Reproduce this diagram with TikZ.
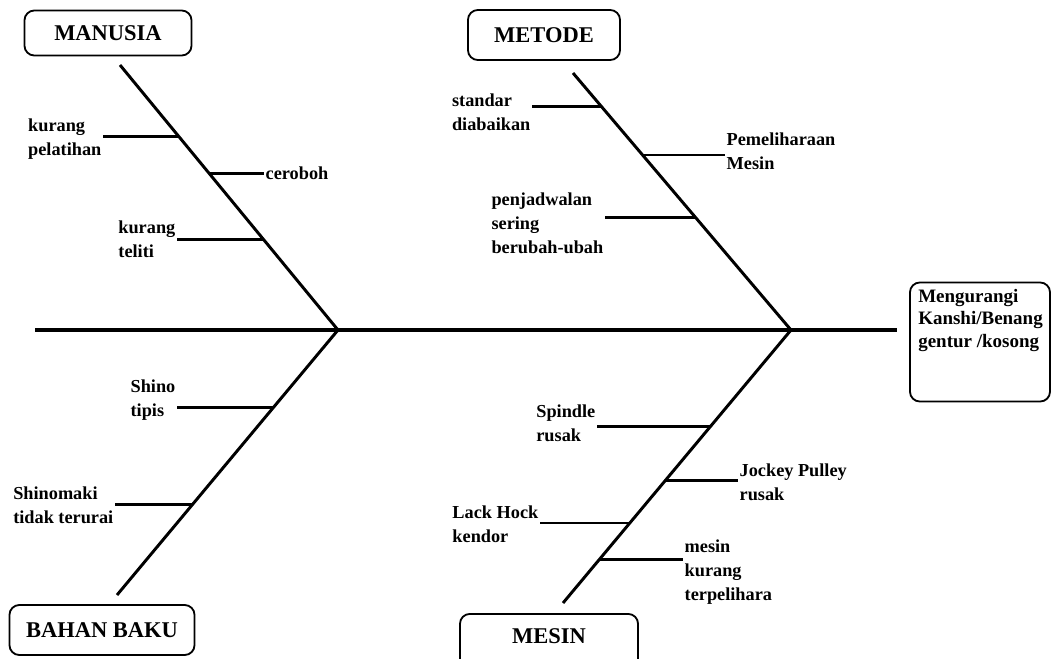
\documentclass[tikz,border=0pt]{standalone}
\usepackage{fontspec}
\setmainfont{Liberation Serif}
\usetikzlibrary{calc}

\begin{document}
\begin{tikzpicture}[x=0.025cm, y=-0.025cm]
    \tikzstyle{catbox} = [draw, rectangle, rounded corners=7pt, line width=1.3pt, minimum height=1.2cm, font=\fontsize{16}{19}\selectfont\bfseries]
    \tikzstyle{resbox} = [draw, rectangle, rounded corners=7pt, line width=1.3pt, minimum width=3.5cm, minimum height=2.975cm]
    \tikzstyle{cause} = [align=left, inner sep=1pt, font=\fontsize{13}{17}\selectfont\bfseries]
    \tikzstyle{spine} = [line width=3pt]
    \tikzstyle{bone} = [line width=2.1pt]
    \tikzstyle{rib} = [line width=2.1pt]

    \useasboundingbox (0,0) rectangle (1055,659);

    % category boxes and result
    \node [catbox, minimum width=4.175cm, minimum height=1.125cm] (manusia) at (108,33) {MANUSIA};
    \node [catbox, minimum width=3.8cm, minimum height=1.25cm] (metode) at (544,35) {METODE};
    \node [catbox, minimum width=4.625cm, minimum height=1.25cm] (bahan) at (102,630) {BAHAN BAKU};
    \node [catbox, anchor=north, minimum width=4.45cm, text height=0.65cm, text depth=0.575cm, inner sep=0.1cm] (mesin) at (549,613) {MESIN};
    \node [resbox] (res) at (980,342) {};
    \node [anchor=north west, align=left, inner sep=0pt, font=\fontsize{13.5}{16}\selectfont\bfseries] (restxt) at (918,289) {Mengurangi\\Kanshi/Benang\\gentur /kosong};

    % spine and bones
    \coordinate (s0) at (35,330);
    \coordinate (j1) at (338,330);
    \coordinate (j2) at (791,330);
    \coordinate (t1) at (120,65);
    \coordinate (t2) at (573,73);
    \coordinate (t3) at (117,595);
    \coordinate (t4) at (563,603);

    \draw [spine, shorten >=0.3cm] (s0) -- (s0 -| res.west);
    \draw [bone] (j1) -- coordinate[pos=0.343] (r3) coordinate[pos=0.592] (r2) coordinate[pos=0.732] (r1) (t1);
    \draw [bone] (j2) -- coordinate[pos=0.436] (r6) coordinate[pos=0.681] (r5) coordinate[pos=0.868] (r4) (t2);
    \draw [bone] (j1) -- coordinate[pos=0.291] (r7) coordinate[pos=0.657] (r8) (t3);
    \draw [bone] (j2) -- coordinate[pos=0.355] (r9) coordinate[pos=0.553] (r10) coordinate[pos=0.707] (r11) coordinate[pos=0.842] (r12) (t4);

    % causes
    \node [cause, anchor=east] (kp) at (103,139) {kurang\\pelatihan};
    \node [cause, anchor=west] (cb) at (264,173) {ceroboh};
    \node [cause, anchor=east] (kt) at (177,239) {kurang\\teliti};
    \node [cause, anchor=east] (sd) at (532,112) {standar\\diabaikan};
    \node [cause, anchor=west] (pm) at (725,151) {Pemeliharaan\\Mesin};
    \node [cause, anchor=east] (pj) at (605,223) {penjadwalan\\sering\\berubah-ubah};
    \node [cause, anchor=east] (st) at (177,400) {Shino\\tipis};
    \node [cause, anchor=east] (sm) at (115,505) {Shinomaki\\tidak terurai};
    \node [cause, anchor=east] (sr) at (597,423) {Spindle\\rusak};
    \node [cause, anchor=west] (jp) at (738,482) {Jockey Pulley\\rusak};
    \node [cause, anchor=east] (lh) at (540,524) {Lack Hock\\kendor};
    \node [cause, anchor=west] (mk) at (683,572) {mesin\\kurang\\terpelihara};

    \draw [rib] (r1) -- (r1 -| kp.east);
    \draw [rib] (r2) -- (r2 -| cb.west);
    \draw [rib] (r3) -- (r3 -| kt.east);
    \draw [rib] (r4) -- (r4 -| sd.east);
    \draw [rib] (r5) -- (r5 -| pm.west);
    \draw [rib] (r6) -- (r6 -| pj.east);
    \draw [rib] (r7) -- (r7 -| st.east);
    \draw [rib] (r8) -- (r8 -| sm.east);
    \draw [rib] (r9) -- (r9 -| sr.east);
    \draw [rib] (r10) -- (r10 -| jp.west);
    \draw [rib] (r11) -- (r11 -| lh.east);
    \draw [rib] (r12) -- (r12 -| mk.west);
\end{tikzpicture}
\end{document}
